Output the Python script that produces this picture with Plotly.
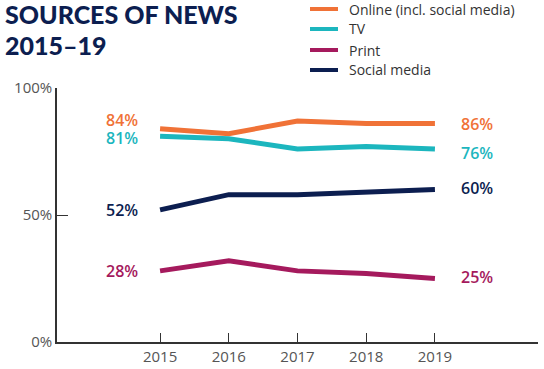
import plotly.graph_objects as go

years = [2015, 2016, 2017, 2018, 2019]
online = [84, 82, 87, 86, 86]
tv = [81, 80, 76, 77, 76]
print_ = [28, 32, 28, 27, 25]
social = [52, 58, 58, 59, 60]

series = [
    ("Online (incl. social media)", online, "#F07237", 9, 0),
    ("TV", tv, "#1CB6BE", -2, -4),
    ("Print", print_, "#A51A5D", 0, 2),
    ("Social media", social, "#0C1E50", 0, 2),
]

# plot area: x 57..538 px, y 88..342 px (paper coords helpers)
def px_x(p):
    return (p - 57) / 481

def px_y(p):
    return (342 - p) / 254

legend_rows = [9, 29, 50, 70]

fig = go.Figure()
for i, (name, vals, color, lshift, rshift) in enumerate(series):
    fig.add_trace(go.Scatter(
        x=years, y=vals, name=name, mode="lines",
        line=dict(color=color, width=5), showlegend=False,
    ))
    fig.add_annotation(x=years[0], y=vals[0], text=f"{vals[0]}%", showarrow=False,
                       xanchor="right", xshift=-20, yshift=lshift,
                       font=dict(family="Open Sans", size=16, color=color, weight=600))
    fig.add_annotation(x=years[-1], y=vals[-1], text=f"{vals[-1]}%", showarrow=False,
                       xanchor="left", xshift=24, yshift=rshift,
                       font=dict(family="Open Sans", size=16, color=color, weight=600))
    ry = px_y(legend_rows[i])
    fig.add_shape(type="line", xref="paper", yref="paper",
                  x0=px_x(310), x1=px_x(338), y0=ry, y1=ry,
                  line=dict(color=color, width=4))
    fig.add_annotation(xref="paper", yref="paper", x=px_x(347), y=ry, text=name,
                       xanchor="left", yanchor="middle", showarrow=False,
                       font=dict(family="Open Sans", size=14, color="#333333"))

fig.add_annotation(xref="paper", yref="paper", x=px_x(3), y=px_y(13.5), xanchor="left",
                   yanchor="middle", showarrow=False, text="SOURCES OF NEWS",
                   font=dict(family="Lato", size=25, color="#0C1E50", weight=900))
fig.add_annotation(xref="paper", yref="paper", x=px_x(3), y=px_y(44.5), xanchor="left",
                   yanchor="middle", showarrow=False, text="2015–19",
                   font=dict(family="Lato", size=25, color="#0C1E50", weight=900))

fig.update_layout(
    width=544, height=369,
    margin=dict(l=57, r=6, t=88, b=27),
    paper_bgcolor="white", plot_bgcolor="white",
    showlegend=False,
    xaxis=dict(range=[2013.5, 2020.5], tickvals=years, ticks="inside", ticklen=9,
               tickcolor="#333", showline=True, linecolor="#333", linewidth=1.5,
               showgrid=False, zeroline=False, automargin=False,
               tickfont=dict(family="Open Sans", size=15, color="#555")),
    yaxis=dict(range=[0, 100], tickvals=[0, 50, 100], ticktext=["0%", "50%", "100%"],
               ticks="inside", ticklen=11, tickcolor="#333", showline=True,
               linecolor="#333", linewidth=1.5, showgrid=False, zeroline=False,
               automargin=False,
               tickfont=dict(family="Open Sans", size=15, color="#555")),
)

fig.write_html("out.html", config={"displayModeBar": False},
               post_script="document.body.style.margin='0';")
